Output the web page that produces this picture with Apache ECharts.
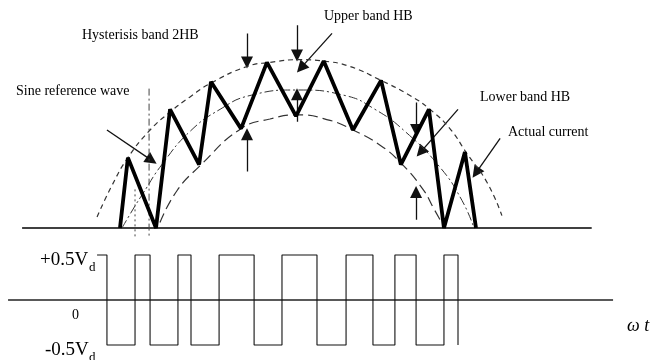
<!DOCTYPE html>
<html><head><meta charset="utf-8">
<script src="https://cdn.jsdelivr.net/npm/echarts@6/dist/echarts.min.js"></script>
<style>html,body{margin:0;padding:0;background:#fff}#c{width:671px;height:360px}</style>
</head><body><div id="c"></div>
<script>
// x: ωt in degrees, y (top): current relative to sine reference peak
const currentZigzag = [[0,0],[4,0.51],[18.2,0],[25.3,0.86],[40,0.46],[46,1.06],[61.2,0.72],[74.3,1.2],[89,0.81],[103,1.21],[117.8,0.71],[132,1.07],[142,0.46],[156.2,0.86],[163.8,0],[174.4,0.55],[180,0]];
const upperBand = [[-11.6,0.08],[-4,0.31],[4,0.51],[15.2,0.71],[25.3,0.84],[35.4,0.95],[46,1.05],[64.2,1.17],[75.8,1.2],[91,1.22],[102.6,1.21],[116.3,1.17],[131.9,1.07],[146.6,0.96],[156.7,0.86],[166.8,0.72],[175.4,0.54],[185.6,0.33],[193.1,0.09]];
const sineReference = [[1,0],[7.6,0.16],[11.6,0.25],[21.2,0.46],[35.4,0.7],[50.6,0.86],[65.7,0.96],[89.5,1.0],[113.8,0.96],[128.9,0.86],[144.1,0.7],[161.8,0.44],[172.9,0.2],[179,0]];
const lowerBand = [[20.2,0.04],[28.8,0.27],[40.4,0.45],[61.2,0.72],[75.8,0.79],[89.5,0.82],[106.2,0.78],[117.8,0.71],[131.5,0.6],[142.1,0.47],[153.2,0.28],[158.3,0.15],[161.8,0.06]];
const currentAxis = [[-49.5,0],[238.5,0]];
const markerDotted = [[7.6,0.28],[7.6,-0.065]];
const markerDashDot = [[14.7,1.01],[14.7,-0.065]];
const arrows = [
  [[64.2,1.41],[64.2,1.2]],
  [[64.2,0.41],[64.2,0.68]],
  [[89.5,1.47],[89.5,1.25]],
  [[89.5,0.77],[89.5,0.97]],
  [[107.2,1.41],[91.5,1.16]],
  [[-6.6,0.71],[16,0.49]],
  [[149.7,0.91],[149.7,0.71]],
  [[149.7,0.06],[149.7,0.26]],
  [[170.9,0.86],[152,0.55]],
  [[192.2,0.65],[180,0.4]]
];
// bottom: inverter output voltage (units of Vd)
const switchAngles = [-6.6,7.6,15.2,29.3,35.9,50.1,67.8,81.9,99.6,114.3,127.9,139,149.7,163.8,170.9];
const pwmStart = -11.6, pwmStartLevel = 0.5;
const voltageAxis = [[-56.6,0],[249.3,0]];
const labels = ['Hysterisis band 2HB','Upper band HB','Sine reference wave','Lower band HB','Actual current'];
const tickLabels = ['+0.5V','0','-0.5V'];
const tickSub = 'd';
const axisName = 'ω t';

const pwm = [[pwmStart, pwmStartLevel]];
let lvl = pwmStartLevel;
switchAngles.forEach(a => { pwm.push([a, lvl]); lvl = -lvl; pwm.push([a, lvl]); });

const k = 356/180, xMin = -60, xMax = 270;
const left = 120 + xMin*k, width = (xMax-xMin)*k;
const ty = 138, tMin = -0.1, tMax = 1.6;
const by = 90, bMin = -0.6, bMax = 0.6;
const F = 'Liberation Serif';
const hidden = {show:false};
function ax(min,max,idx){return {type:'value',min,max,gridIndex:idx,show:false,splitLine:hidden};}
function line(data, xi, w, type, color){return {type:'line',xAxisIndex:xi,yAxisIndex:xi,data,showSymbol:false,symbol:'none',smooth:false,silent:true,animation:false,lineStyle:{width:w,type:type,color:color||'#111'}};}
function curve(data, w, type){const s=line(data,0,w,type,'#333'); s.smooth=0.5; return s;}

const series = [
  line(currentAxis,0,1.3,'solid','#000'),
  curve(upperBand,1.2,[5,4]),
  curve(sineReference,1.0,[9,3,2,3]),
  curve(lowerBand,1.2,[10,5]),
  line(markerDotted,0,1,[2,3],'#444'),
  line(markerDashDot,0,1,[7,3,2,3],'#444'),
  line(currentZigzag,0,3.8,'solid','#000'),
  {type:'lines',coordinateSystem:'cartesian2d',xAxisIndex:0,yAxisIndex:0,silent:true,animation:false,
   symbol:['none','triangle'],symbolSize:[0,12],
   lineStyle:{color:'#111',width:1.3,opacity:1,curveness:0},
   data:arrows.map(c=>({coords:c}))},
  line(voltageAxis,1,1.3,'solid','#222'),
  line(pwm,1,1.1,'solid','#111')
];

function txt(t,x,y,size,opt){return Object.assign({type:'text',x,y,silent:true,style:{text:t,font:size+'px "'+F+'"',fill:'#000',align:'left',verticalAlign:'middle'}},opt||{});}
const graphic = [
  txt(labels[0],82,35,14), txt(labels[1],324,16,14), txt(labels[2],16,91,14),
  txt(labels[3],480,97,14), txt(labels[4],508,132,14),
  txt(tickLabels[0],40,260,19), txt(tickSub,89,268,13),
  txt(tickLabels[1],72,315,14),
  txt(tickLabels[2],45,350,19), txt(tickSub,89,358,13),
  {type:'text',x:627,y:326,silent:true,style:{text:axisName,font:'italic 18px "'+F+'"',fill:'#000',align:'left',verticalAlign:'middle'}}
];

const chart = echarts.init(document.getElementById('c'),null,{renderer:'canvas'});
chart.setOption({
  animation:false,
  backgroundColor:'#fff',
  grid:[
    {left:left,width:width,top:228-tMax*ty,height:(tMax-tMin)*ty},
    {left:left,width:width,top:300-bMax*by,height:(bMax-bMin)*by}
  ],
  xAxis:[ax(xMin,xMax,0),ax(xMin,xMax,1)],
  yAxis:[ax(tMin,tMax,0),ax(bMin,bMax,1)],
  series,
  graphic
});
</script></body></html>
